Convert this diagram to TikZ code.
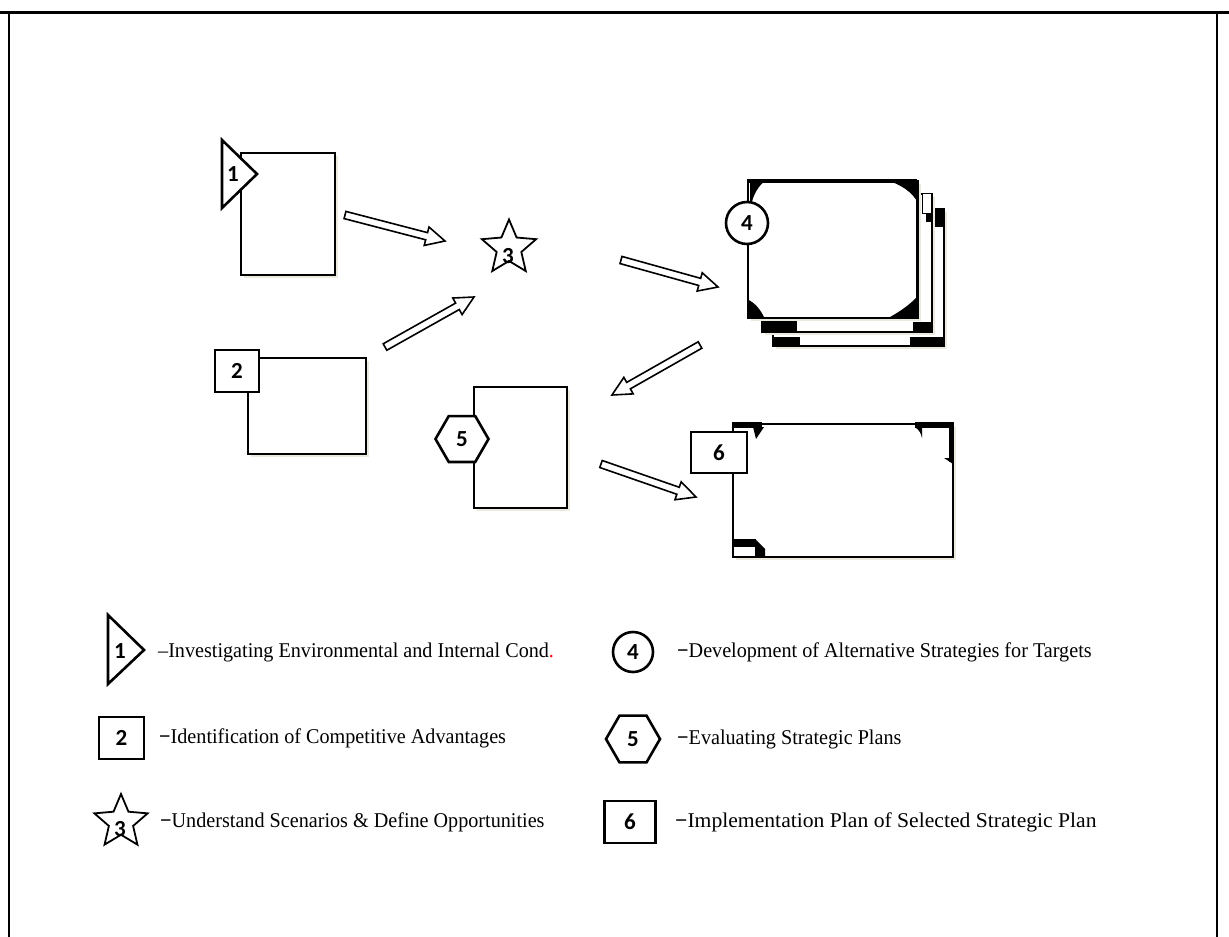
\documentclass[tikz,border=0pt]{standalone}
\usepackage{fontspec}
\setmainfont{Liberation Serif}
\newfontfamily\numfont{Carlito}
\newfontfamily\legendfont[FakeStretch=0.96]{Liberation Serif}
\newfontfamily\widelegendfont[FakeStretch=1.03]{Liberation Serif}
\usetikzlibrary{shapes.geometric,calc,shadows}
\definecolor{shade}{HTML}{ECEADF}

\tikzset{
 doc/.style={draw,line width=1.6pt,fill=white,inner sep=0pt,
  drop shadow={shadow xshift=3pt,shadow yshift=-3pt,fill=shade,opacity=1}},
 badgeline/.style={draw,line width=2.6pt,fill=white,line join=miter},
 numtext/.style={inner sep=0pt,font=\numfont\bfseries\fontsize{23}{23}\selectfont},
 badge/.style={badgeline,inner sep=0pt,font=\numfont\bfseries\fontsize{23}{23}\selectfont},
 starbadge/.style={draw,line width=1.8pt,fill=white,star,star points=5,
  star point ratio=2.2,inner sep=0pt},
 legtext/.style={anchor=west,inner sep=0pt,font=\legendfont\fontsize{21}{24}\selectfont},
 blockarrow/.style={draw,line width=1.6pt,fill=white,line join=miter},
}

% hollow block arrow between two named coordinates
\newcommand{\blockarrow}[2]{%
 \coordinate (hb) at ($(#2)!19pt!(#1)$);
 \draw[blockarrow] ($(#1)!3.7pt!90:(#2)$) -- ($(hb)!3.7pt!90:(#2)$)
  -- ($(hb)!9.5pt!90:(#2)$) -- (#2) -- ($(hb)!9.5pt!-90:(#2)$)
  -- ($(hb)!3.7pt!-90:(#2)$) -- ($(#1)!3.7pt!-90:(#2)$) -- cycle;}
\newcommand{\dash}{{\bfseries −}}

\begin{document}
\begin{tikzpicture}[x=1pt,y=-1pt]
\useasboundingbox (0,0) rectangle (1229,937);
% frame
\draw[line width=3pt] (0,12) -- (1229,12);
\draw[line width=1.3pt] (9,12) -- (9,937) (1217,12) -- (1217,937);

% step 1
\node[doc,minimum width=94,minimum height=122,anchor=north west] (doc1) at (240,152) {};
\draw[badgeline] (222,140) -- (257,174) -- (222,208) -- cycle;
\node[numtext] (n1) at (233,174) {1};

% step 2
\node[doc,minimum width=118,minimum height=96,anchor=north west] (doc2) at (247,357) {};
\node[badge,minimum width=44,minimum height=42] (n2) at (237,371) {2};

% step 3
\node[starbadge,minimum size=57] (n3) at (509,248) {};
\node[numtext] (n3t) at (508,256) {3};

% step 4 (stack of sheets)
\node[doc,minimum width=171,minimum height=137,anchor=north west] (doc4c) at (772,208) {};
\fill (935,208) rectangle (943.8,227);
\fill (772,337) rectangle (800,345.8);
\fill (910,337) rectangle (943.8,345.8);
\node[doc,minimum width=170,minimum height=138,anchor=north west] (doc4b) at (761,193) {};
\fill (761,320) rectangle (797,331.8);
\fill (913,322) rectangle (931.8,331.8);
\draw[line width=1pt,fill=white] (922,193) rectangle (931,213);
\fill (926,213) rectangle (931.8,222);
\node[doc,minimum width=170,minimum height=137,anchor=north west] (doc4a) at (747,180) {};
\fill (747,178.5) rectangle (917,183);
\fill (750,180) -- (766,180) .. controls (758,186) and (753,195) .. (751,206) -- (750,206) -- cycle;
\fill (886,180) -- (918.5,180) -- (918.5,204) .. controls (913,192) and (900,184) .. (886,180) -- cycle;
\fill (747,317) -- (747,299) .. controls (755,303) and (760,309) .. (764,317) -- cycle;
\fill (918.5,317) -- (890,317) .. controls (901,311) and (912,303) .. (918.5,295) -- cycle;
\draw[line width=2.6pt] (917,180) -- (917,317);
\node[badge,circle,minimum size=42] (n4) at (747,223) {4};

% step 5
\node[doc,minimum width=93,minimum height=121,anchor=north west] (doc5) at (473,386) {};
\node[badge,regular polygon,regular polygon sides=6,minimum size=53] (n5) at (462,439) {5};

% step 6
\node[doc,minimum width=220,minimum height=133,anchor=north west] (doc6) at (732,423) {};
\fill (732,421.5) rectangle (762,428);
\fill (753,427) -- (764,427) -- (756,439) -- cycle;
\fill (915,421.5) rectangle (953.5,428);
\fill (915,427) .. controls (919,430) and (921,433) .. (922,438) -- (922,427) -- cycle;
\fill (949,423) rectangle (953.5,462);
\fill (944,458) -- (953,458) -- (953,464) -- cycle;
\fill (732,539) rectangle (756,547);
\fill (755,539) -- (765,549) -- (765,556.8) -- (755,556.8) -- cycle;
\node[badge,minimum width=56,minimum height=41] (n6) at (719,452.5) {6};

% arrows
\coordinate (a1s) at (345,215); \coordinate (a1e) at (445,241);
\coordinate (a2s) at (385,347); \coordinate (a2e) at (474,297);
\coordinate (a3s) at (621,260); \coordinate (a3e) at (718,287);
\coordinate (a4s) at (700,345); \coordinate (a4e) at (612,395);
\coordinate (a5s) at (601,464); \coordinate (a5e) at (696,497);
\blockarrow{a1s}{a1e}
\blockarrow{a2s}{a2e}
\blockarrow{a3s}{a3e}
\blockarrow{a4s}{a4e}
\blockarrow{a5s}{a5e}

% legend
\draw[badgeline] (108,615) -- (144,650) -- (108,684) -- cycle;
\node[numtext] (l1) at (120,651) {1};
\node[badge,minimum width=45,minimum height=42] (l2) at (121.5,738) {2};
\node[starbadge,minimum size=56] (l3) at (121,822) {};
\node[numtext] (l3t) at (120,829) {3};
\node[badge,circle,minimum size=40] (l4) at (633,652) {4};
\node[badge,regular polygon,regular polygon sides=6,minimum size=54] (l5) at (633,739) {5};
\node[badge,minimum width=51,minimum height=42] (l6) at (630,822) {6};

\node[legtext] (t1) at (158,652) {–Investigating Environmental and Internal Cond\textcolor{red}{.}};
\node[legtext] (t2) at (159,738) {\dash Identification of Competitive Advantages};
\node[legtext] (t3) at (160,822) {\dash Understand Scenarios \& Define Opportunities};
\node[legtext] (t4) at (677,652) {\dash Development of Alternative Strategies for Targets};
\node[legtext] (t5) at (677,739) {\dash Evaluating Strategic Plans};
\node[legtext,font=\widelegendfont\fontsize{21}{24}\selectfont] (t6) at (675,822) {\dash Implementation Plan of Selected Strategic Plan};
\end{tikzpicture}
\end{document}
